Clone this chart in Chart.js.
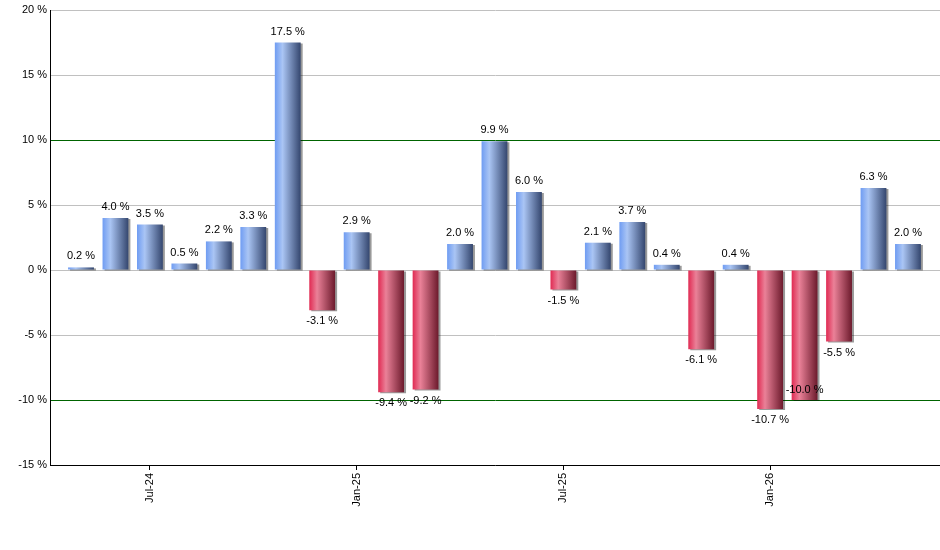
<!DOCTYPE html>
<html>
<head>
<meta charset="utf-8">
<script src="https://cdn.jsdelivr.net/npm/chart.js@4/dist/chart.umd.min.js"></script>
<style>
html,body{margin:0;padding:0;background:#fff;}
#wrap{width:940px;height:550px;position:relative;}
</style>
</head>
<body>
<div id="wrap"><canvas id="c" width="940" height="550"></canvas></div>
<script>
const months = ['May-24','Jun-24','Jul-24','Aug-24','Sep-24','Oct-24','Nov-24','Dec-24',
  'Jan-25','Feb-25','Mar-25','Apr-25','May-25','Jun-25','Jul-25','Aug-25','Sep-25','Oct-25',
  'Nov-25','Dec-25','Jan-26','Feb-26','Mar-26','Apr-26','May-26'];
const values = [0.2, 4.0, 3.5, 0.5, 2.2, 3.3, 17.5, -3.1, 2.9, -9.4, -9.2, 2.0, 9.9, 6.0,
  -1.5, 2.1, 3.7, 0.4, -6.1, 0.4, -10.7, -10.0, -5.5, 6.3, 2.0];
const xTickLabels = ['Jul-24','Jan-25','Jul-25','Jan-26'];
const yTicks = [-15,-10,-5,0,5,10,15,20];

const FONT = 'Liberation Sans, Arial, sans-serif';

const gradientPlugin = {
  id: 'grad',
  beforeDatasetsDraw(chart) {
    const ctx = chart.ctx;
    const meta = chart.getDatasetMeta(0);
    meta.data.forEach((el, i) => {
      const w = el.width;
      const x0 = el.x - w / 2, x1 = el.x + w / 2;
      const g = ctx.createLinearGradient(x0, 0, x1, 0);
      if (values[i] >= 0) {
        g.addColorStop(0, '#6f9cf2');
        g.addColorStop(0.3, '#aac5f4');
        g.addColorStop(1, '#34466e');
      } else {
        g.addColorStop(0, '#e02a52');
        g.addColorStop(0.3, '#ea8198');
        g.addColorStop(1, '#6c1a2c');
      }
      el.options.backgroundColor = g;
    });
    ctx.save();
    ctx.shadowColor = 'rgba(0,0,0,0.4)';
    ctx.shadowOffsetX = 2;
    ctx.shadowOffsetY = 1;
    ctx.shadowBlur = 0;
  },
  afterDatasetsDraw(chart) {
    const ctx = chart.ctx;
    ctx.restore();
    const meta = chart.getDatasetMeta(0);
    ctx.save();
    ctx.font = '11px ' + FONT;
    ctx.fillStyle = '#000';
    ctx.textAlign = 'center';
    ctx.textBaseline = 'middle';
    const placed = [];
    const h = 11;
    meta.data.forEach((el, i) => {
      const v = values[i];
      const txt = v.toFixed(1) + ' %';
      const tw = ctx.measureText(txt).width;
      let y = v >= 0 ? el.y - 11 : el.y + 11;
      const overlaps = (yy) => placed.some(p =>
        Math.abs(p.x - el.x) < (p.w + tw) / 2 && Math.abs(p.y - yy) < h);
      if (overlaps(y)) {
        y = v >= 0 ? el.y + 10 : el.y - 10;
      }
      placed.push({x: el.x, y: y, w: tw});
      ctx.fillText(txt, el.x, y);
    });
    ctx.restore();
  }
};

const tickPositions = xTickLabels.map(l => months.indexOf(l));

new Chart(document.getElementById('c'), {
  type: 'bar',
  data: {
    datasets: [{
      data: values.map((v, i) => ({x: i, y: v})),
      backgroundColor: (c) => values[c.dataIndex] >= 0 ? '#7ea6ee' : '#d03a5c',
      borderWidth: 0,
      categoryPercentage: 1,
      barPercentage: 0.75
    }]
  },
  options: {
    responsive: false,
    animation: false,
    devicePixelRatio: 1,
    layout: {padding: {top: 10, right: 0, left: 0, bottom: 0}},
    plugins: {legend: {display: false}, tooltip: {enabled: false}},
    scales: {
      x: {
        type: 'linear',
        offset: false,
        min: -0.9,
        max: 24.93,
        afterBuildTicks(scale) {
          scale.ticks = tickPositions.map(p => ({value: p}));
        },
        afterFit(scale) { scale.height = 85; },
        ticks: {
          autoSkip: false,
          minRotation: 90,
          maxRotation: 90,
          padding: 3,
          color: '#000',
          font: {family: FONT, size: 11},
          callback(v) {
            const k = tickPositions.indexOf(v);
            return k >= 0 ? xTickLabels[k] : '';
          }
        },
        grid: {
          offset: false,
          drawOnChartArea: false,
          drawTicks: true,
          tickLength: 5,
          color: '#000'
        },
        border: {display: true, color: '#000', width: 1}
      },
      y: {
        min: yTicks[0],
        max: yTicks[yTicks.length - 1],
        afterBuildTicks(scale) {
          scale.ticks = yTicks.map(v => ({value: v}));
        },
        afterFit(scale) { scale.width = 50; },
        ticks: {
          padding: 3,
          color: '#000',
          font: {family: FONT, size: 11},
          callback: (v) => v + ' %'
        },
        grid: {
          drawTicks: false,
          color: (c) => (c.tick && Math.abs(c.tick.value) === 10) ? '#006400' : '#c0c0c0',
          lineWidth: 1
        },
        border: {display: true, color: '#000', width: 1}
      }
    }
  },
  plugins: [gradientPlugin]
});
</script>
</body>
</html>
